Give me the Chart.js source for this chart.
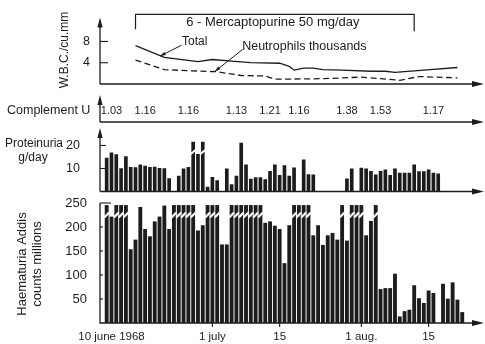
<!DOCTYPE html>
<html>
<head>
<meta charset="utf-8">
<script src="https://cdn.jsdelivr.net/npm/chart.js@4.4.0/dist/chart.umd.min.js"></script>
<style>
  html, body { margin: 0; padding: 0; background: #fff; }
  #wrap { position: relative; width: 485px; height: 344px; }
  #wrap canvas { position: absolute; left: 0; top: 0; }
</style>
</head>
<body>
<div id="wrap">
  <canvas id="wbcChart" width="485" height="344"></canvas>
  <canvas id="protChart" width="485" height="344"></canvas>
  <canvas id="haemChart" width="485" height="344"></canvas>
</div>
<script>
// days are counted from 10 june 1968
const OVER = 999; // off the scale, drawn with a break mark

const totalDays = [5, 11, 18, 21, 25, 29, 35, 37, 38, 40, 42, 44, 48, 54, 57, 59, 65, 72];
const totalWbc = [7.2, 5.0, 4.2, 4.6, 4.3, 4.0, 3.9, 3.3, 2.6, 3.0, 3.0, 2.7, 2.6, 2.4, 2.4, 2.2, 2.6, 3.1];
const neutroDays = [5, 11, 16, 22, 27, 32, 34, 44, 52, 56, 60, 64, 72];
const neutroWbc = [4.5, 2.7, 2.5, 2.3, 1.6, 1.5, 0.9, 1.0, 1.3, 1.0, 0.7, 1.4, 1.15];

const therapyStart = 5;
const therapyEnd = 63;
const therapyLabel = '6 - Mercaptopurine 50 mg/day';

const complementDays = [0, 7, 16, 26, 33, 39, 49, 56, 67];
const complementValues = ['1.03', '1.16', '1.16', '1.13', '1.21', '1.16', '1.38', '1.53', '1.17'];

// one bar per day, first bar is the day before 10 june
const barDays = Array.from({ length: 75 }, (_, i) => i - 1);

const proteinuria = [
  14.5, 16.8, 16, 10, 15.2, 10.5, 10.4, 11.6, 11, 10.5,
  10.6, 10.1, 10, 5.6, null, 6.7, 9.9, 10.5, OVER, 16.2,
  OVER, 1.9, 6.2, 4.8, null, 9.9, 3, 6.7, 21, 11.6,
  5.4, 6, 6, 5.2, 8.8, 11.6, 7, 11.3, 6.7, 10.3,
  null, 13.8, 7.4, 7.2, null, null, null, null, null, null,
  5.5, 9.9, null, 10.2, 9.9, 8.8, 7.2, 8.8, 9.4, 7,
  9.9, 8, 8, 8, 11.6, 8.7, 8.7, 9.4, 8, 7.7,
  null, null, null, null, null
];

const haematuria = [
  OVER, 221, OVER, OVER, OVER, 153, 173, 241, 195, 180,
  211, 221, 244, 195, OVER, OVER, OVER, OVER, OVER, 192,
  203, OVER, OVER, OVER, 163, 163, OVER, OVER, OVER, OVER,
  OVER, OVER, OVER, 208, 211, 202, 195, 124, 203, OVER,
  OVER, OVER, OVER, 182, 203, 162, 182, 187, 173, OVER,
  171, OVER, OVER, OVER, 182, 212, OVER, 70, 72, 72,
  102, 13, 24, 27, 78, 51, 41, 67, 62, null,
  81, 50, 84, 48, 22
];

const tickDays = [0, 21, 35, 52, 66];
const tickLabels = ['10 june 1968', '1 july', '15', '1 aug.', '15'];

const X_MIN = -2.39;
const X_MAX = 77.32;
const ink = '#1c1c1c';
const FAMILY = '"Liberation Sans", Arial, sans-serif';
const font = size => `${size}px ${FAMILY}`;

function seg(ctx, x1, y1, x2, y2, w) {
  ctx.beginPath();
  ctx.moveTo(x1, y1);
  ctx.lineTo(x2, y2);
  ctx.lineWidth = w || 1.3;
  ctx.strokeStyle = ink;
  ctx.stroke();
}

function arrowHead(ctx, x, y, dir) {
  ctx.beginPath();
  if (dir === 'up') {
    ctx.moveTo(x, y);
    ctx.lineTo(x - 2.6, y + 10);
    ctx.lineTo(x + 2.6, y + 10);
  } else {
    ctx.moveTo(x, y);
    ctx.lineTo(x - 12, y - 3);
    ctx.lineTo(x - 12, y + 3);
  }
  ctx.closePath();
  ctx.fillStyle = ink;
  ctx.fill();
}

function pointer(ctx, x1, y1, x2, y2) {
  seg(ctx, x1, y1, x2, y2, 1);
  const ang = Math.atan2(y2 - y1, x2 - x1);
  ctx.beginPath();
  ctx.moveTo(x2, y2);
  ctx.lineTo(x2 - 6 * Math.cos(ang - 0.3), y2 - 6 * Math.sin(ang - 0.3));
  ctx.lineTo(x2 - 6 * Math.cos(ang + 0.3), y2 - 6 * Math.sin(ang + 0.3));
  ctx.closePath();
  ctx.fillStyle = ink;
  ctx.fill();
}

// axis lines with arrows and inner tick marks
const axesPlugin = {
  id: 'axes',
  afterDraw(chart, args, opts) {
    const { ctx, chartArea: a } = chart;
    const y = chart.scales.y;
    ctx.save();
    seg(ctx, a.left, a.bottom, a.right - 8, a.bottom);
    arrowHead(ctx, a.right + 1, a.bottom, 'right');
    if (opts.arrowUp) {
      seg(ctx, a.left, a.bottom, a.left, a.top + 6);
      arrowHead(ctx, a.left, a.top, 'up');
    } else {
      seg(ctx, a.left, a.bottom + 0.6, a.left, a.top);
    }
    y.ticks.forEach(t => {
      const py = y.getPixelForValue(t.value);
      const len = t.value === y.max ? opts.topTick : opts.tickLen;
      seg(ctx, a.left, py, a.left + len, py, 1.1);
    });
    ctx.restore();
  }
};

// slanted gap across the bars that go off the scale
const breakPlugin = {
  id: 'breaks',
  afterDatasetsDraw(chart, args, opts) {
    const { ctx } = chart;
    const y = chart.scales.y;
    const ds = chart.data.datasets[0];
    const meta = chart.getDatasetMeta(0);
    const yc = y.getPixelForValue(opts.at);
    ctx.save();
    meta.data.forEach((bar, i) => {
      if (!ds.data[i].over) return;
      const half = bar.width / 2 + 0.8;
      ctx.beginPath();
      ctx.moveTo(bar.x - half, yc + opts.slant);
      ctx.lineTo(bar.x + half, yc - opts.slant);
      ctx.lineWidth = opts.gap;
      ctx.strokeStyle = '#fff';
      ctx.stroke();
    });
    ctx.restore();
  }
};

const wbcNotes = {
  id: 'wbcNotes',
  afterDraw(chart) {
    const { ctx, chartArea: a, scales: { x, y } } = chart;
    ctx.save();
    ctx.fillStyle = ink;
    ctx.textBaseline = 'middle';

    // y title
    ctx.save();
    ctx.translate(65, 50);
    ctx.rotate(-Math.PI / 2);
    ctx.font = font(12);
    ctx.textAlign = 'center';
    ctx.fillText('W.B.C./cu.mm', 0, 0);
    ctx.restore();

    // therapy bracket
    const x1 = x.getPixelForValue(therapyStart);
    const x2 = x.getPixelForValue(therapyEnd);
    const yt = y.getPixelForValue(13.1);
    ctx.beginPath();
    ctx.moveTo(x1, y.getPixelForValue(10.3));
    ctx.lineTo(x1, yt);
    ctx.lineTo(x2, yt);
    ctx.lineTo(x2, y.getPixelForValue(9.9));
    ctx.lineWidth = 1.2;
    ctx.strokeStyle = ink;
    ctx.stroke();
    ctx.font = font(13);
    ctx.textAlign = 'center';
    ctx.fillText(therapyLabel, (x1 + x2) / 2 - 2, y.getPixelForValue(11.6));

    // series labels
    ctx.font = font(12);
    ctx.textAlign = 'left';
    ctx.fillText('Total', x.getPixelForValue(14.7), y.getPixelForValue(8.0));
    pointer(ctx, x.getPixelForValue(14.6), y.getPixelForValue(7.3), x.getPixelForValue(10.1), y.getPixelForValue(5.25));
    ctx.font = font(12.5);
    ctx.fillText('Neutrophils thousands', x.getPixelForValue(27.2), y.getPixelForValue(7.1));
    pointer(ctx, x.getPixelForValue(27.3), y.getPixelForValue(6.5), x.getPixelForValue(21.5), y.getPixelForValue(2.35));

    // complement row
    const rowY = 122;
    seg(ctx, a.left, rowY, a.right - 8, rowY);
    arrowHead(ctx, a.right + 1, rowY, 'right');
    seg(ctx, a.left, rowY, a.left, 101);
    arrowHead(ctx, a.left, 95, 'up');
    ctx.fillStyle = ink;
    ctx.font = font(12.5);
    ctx.textAlign = 'left';
    ctx.fillText('Complement U', 7, 111);
    ctx.font = font(11);
    ctx.textAlign = 'center';
    complementDays.forEach((d, i) => {
      ctx.fillText(complementValues[i], x.getPixelForValue(d), 111);
    });
    ctx.restore();
  }
};

const protNotes = {
  id: 'protNotes',
  afterDraw(chart) {
    const { ctx } = chart;
    ctx.save();
    ctx.fillStyle = ink;
    ctx.textBaseline = 'middle';
    ctx.font = font(12);
    ctx.textAlign = 'left';
    ctx.fillText('Proteinuria', 5, 144);
    ctx.textAlign = 'center';
    ctx.fillText('g/day', 33, 158);
    ctx.restore();
  }
};

const haemNotes = {
  id: 'haemNotes',
  afterDraw(chart) {
    const { ctx, chartArea: a, scales: { x } } = chart;
    ctx.save();
    ctx.fillStyle = ink;
    ctx.textBaseline = 'middle';
    ctx.textAlign = 'center';
    ctx.save();
    ctx.translate(0, 264);
    ctx.rotate(-Math.PI / 2);
    ctx.font = font(13);
    ctx.fillText('Haematuria Addis', 0, 22);
    ctx.fillText('counts millions', 0, 37);
    ctx.restore();

    ctx.font = font(11.5);
    tickDays.forEach((d, i) => {
      const px = x.getPixelForValue(d);
      if (i > 0) seg(ctx, px, a.bottom, px, a.bottom + 4, 1.1);
      ctx.fillText(tickLabels[i], px, 337);
    });
    ctx.restore();
  }
};

const xScale = { type: 'linear', min: X_MIN, max: X_MAX, offset: false, display: false };

function yScale(max, ticks, pad, size) {
  return {
    min: 0,
    max: max,
    afterFit: s => { s.width = 100; },
    afterBuildTicks: s => { s.ticks = ticks.map(v => ({ value: v })); },
    grid: { display: false, drawTicks: false },
    border: { display: false },
    ticks: { padding: pad, color: ink, font: { family: FAMILY, size: size } }
  };
}

function barData(values, drawnOver) {
  return barDays
    .map((d, i) => ({ x: d, y: values[i] === OVER ? drawnOver : values[i], over: values[i] === OVER }))
    .filter(p => p.y !== null);
}

const common = {
  responsive: false,
  animation: false,
  events: []
};

// W.B.C. panel (with complement row)
new Chart(document.getElementById('wbcChart'), {
  type: 'line',
  data: {
    datasets: [
      {
        label: 'Total',
        data: totalDays.map((d, i) => ({ x: d, y: totalWbc[i] })),
        borderColor: ink, borderWidth: 1.3, pointRadius: 0, tension: 0
      },
      {
        label: 'Neutrophils thousands',
        data: neutroDays.map((d, i) => ({ x: d, y: neutroWbc[i] })),
        borderColor: ink, borderWidth: 1.3, borderDash: [6, 3.5], pointRadius: 0, tension: 0
      }
    ]
  },
  options: {
    ...common,
    layout: { padding: { top: 12, bottom: 260, left: 0, right: 2 } },
    plugins: {
      legend: { display: false },
      tooltip: { enabled: false },
      axes: { arrowUp: true, tickLen: 8, topTick: 8 }
    },
    scales: { x: xScale, y: yScale(12.5, [4, 8], 10, 12.5) }
  },
  plugins: [axesPlugin, wbcNotes]
});

// Proteinuria panel
new Chart(document.getElementById('protChart'), {
  type: 'bar',
  data: {
    datasets: [{
      label: 'Proteinuria g/day',
      data: barData(proteinuria, 21.5),
      backgroundColor: ink,
      barThickness: 3
    }]
  },
  options: {
    ...common,
    layout: { padding: { top: 128, bottom: 152.5, left: 0, right: 2 } },
    plugins: {
      legend: { display: false },
      tooltip: { enabled: false },
      axes: { arrowUp: true, tickLen: 6, topTick: 6 },
      breaks: { at: 17.2, slant: 2, gap: 2 }
    },
    scales: { x: xScale, y: yScale(27.6, [10, 20], 20, 12.5) }
  },
  plugins: [axesPlugin, breakPlugin, protNotes]
});

// Haematuria panel
new Chart(document.getElementById('haemChart'), {
  type: 'bar',
  data: {
    datasets: [{
      label: 'Haematuria Addis counts millions',
      data: barData(haematuria, 245),
      backgroundColor: ink,
      barThickness: 3.2
    }]
  },
  options: {
    ...common,
    layout: { padding: { top: 203, bottom: 21, left: 0, right: 2 } },
    plugins: {
      legend: { display: false },
      tooltip: { enabled: false },
      axes: { arrowUp: false, tickLen: 3, topTick: 11 },
      breaks: { at: 225, slant: 2.5, gap: 2.2 }
    },
    scales: { x: xScale, y: yScale(250, [50, 100, 150, 200, 250], 13, 13) }
  },
  plugins: [axesPlugin, breakPlugin, haemNotes]
});
</script>
</body>
</html>
